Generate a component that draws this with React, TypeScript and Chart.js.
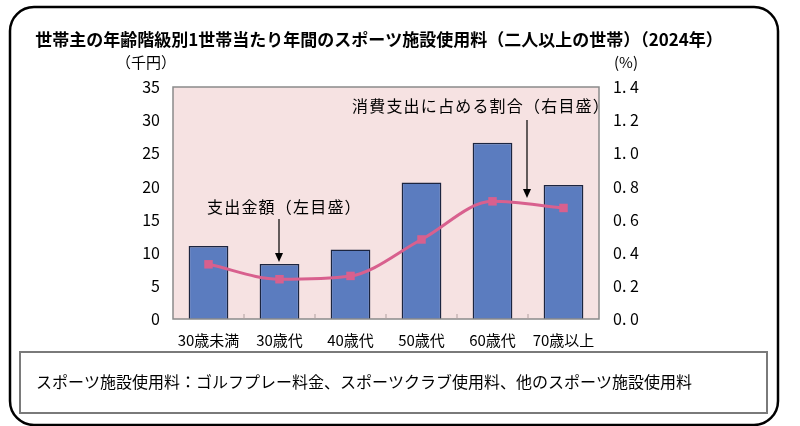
import React, { useEffect, useRef } from "react";
import { Chart, registerables } from "chart.js";

Chart.register(...registerables);

const categories = ["30歳未満", "30歳代", "40歳代", "50歳代", "60歳代", "70歳以上"];
const spending = [11.0, 8.3, 10.5, 20.6, 26.6, 20.2];
const share = [0.33, 0.24, 0.26, 0.48, 0.71, 0.67];
const leftTicks = [0, 5, 10, 15, 20, 25, 30, 35];
const rightTicks = [0.0, 0.2, 0.4, 0.6, 0.8, 1.0, 1.2, 1.4];

const titleText = "世帯主の年齢階級別1世帯当たり年間のスポーツ施設使用料（二人以上の世帯）（2024年）";
const leftUnit = "（千円）";
const rightUnit = "(%)";
const barNote = "支出金額（左目盛）";
const lineNote = "消費支出に占める割合（右目盛）";
const footNote = "スポーツ施設使用料：ゴルフプレー料金、スポーツクラブ使用料、他のスポーツ施設使用料";

const FONT = '"Noto Sans CJK JP", "Noto Sans", sans-serif';

function roundRect(ctx: CanvasRenderingContext2D, x: number, y: number, w: number, h: number, r: number) {
  ctx.beginPath();
  ctx.moveTo(x + r, y);
  ctx.lineTo(x + w - r, y);
  ctx.arcTo(x + w, y, x + w, y + r, r);
  ctx.lineTo(x + w, y + h - r);
  ctx.arcTo(x + w, y + h, x + w - r, y + h, r);
  ctx.lineTo(x + r, y + h);
  ctx.arcTo(x, y + h, x, y + h - r, r);
  ctx.lineTo(x, y + r);
  ctx.arcTo(x, y, x + r, y, r);
  ctx.closePath();
}

function arrow(ctx: CanvasRenderingContext2D, x: number, y1: number, y2: number) {
  ctx.save();
  ctx.strokeStyle = "#000";
  ctx.fillStyle = "#000";
  ctx.lineWidth = 1.2;
  ctx.beginPath();
  ctx.moveTo(x, y1);
  ctx.lineTo(x, y2 - 8);
  ctx.stroke();
  ctx.beginPath();
  ctx.moveTo(x - 4, y2 - 9);
  ctx.lineTo(x + 4, y2 - 9);
  ctx.lineTo(x, y2);
  ctx.closePath();
  ctx.fill();
  ctx.restore();
}

const decor = {
  id: "decor",
  beforeDraw(chart: any) {
    const ctx = chart.ctx as CanvasRenderingContext2D;
    const a = chart.chartArea;
    ctx.save();
    ctx.fillStyle = "#ffffff";
    ctx.fillRect(0, 0, chart.width, chart.height);
    ctx.fillStyle = "#f6e2e2";
    ctx.fillRect(a.left, a.top, a.right - a.left, a.bottom - a.top);
    ctx.restore();
  },
  afterDatasetsDraw(chart: any) {
    const ctx = chart.ctx as CanvasRenderingContext2D;
    const a = chart.chartArea;
    ctx.save();
    ctx.strokeStyle = "#8a8a8a";
    ctx.lineWidth = 1.5;
    ctx.strokeRect(a.left, a.top, a.right - a.left, a.bottom - a.top);
    const xs = chart.scales.x;
    ctx.strokeStyle = "#b0a0a0";
    ctx.lineWidth = 1;
    for (let i = 1; i < categories.length; i++) {
      const x = (xs.getPixelForValue(i - 1) + xs.getPixelForValue(i)) / 2;
      ctx.beginPath();
      ctx.moveTo(x, a.bottom);
      ctx.lineTo(x, a.bottom - 5);
      ctx.stroke();
    }
    ctx.strokeStyle = "#000";
    ctx.lineWidth = 2.5;
    roundRect(ctx, 10, 7, 768, 418, 24);
    ctx.stroke();
    ctx.strokeStyle = "#7a7a7a";
    ctx.lineWidth = 2;
    ctx.strokeRect(20, 352, 747, 61);
    ctx.fillStyle = "#000";
    ctx.textBaseline = "middle";
    ctx.textAlign = "center";
    ctx.font = `bold 17px ${FONT}`;
    ctx.fillText(titleText, 379, 40);
    ctx.font = `15px ${FONT}`;
    ctx.fillText(leftUnit, 146, 62);
    ctx.fillText(rightUnit, 626, 62);
    ctx.textAlign = "left";
    ctx.font = `16px ${FONT}`;
    (ctx as any).letterSpacing = "1.2px";
    ctx.fillText(barNote, 207, 207);
    ctx.fillText(lineNote, 352, 106);
    (ctx as any).letterSpacing = "0px";
    ctx.fillText(footNote, 36, 382);
    arrow(ctx, 279, 219, 262);
    arrow(ctx, 527, 120, 198);
    ctx.restore();
  },
};

export default function App() {
  const ref = useRef<HTMLCanvasElement | null>(null);
  useEffect(() => {
    if (!ref.current) return;
    const chart = new Chart(ref.current, {
      type: "bar",
      data: {
        labels: categories,
        datasets: [
          {
            type: "line",
            label: "消費支出に占める割合",
            data: share,
            yAxisID: "y1",
            borderColor: "#d8608e",
            backgroundColor: "#d8608e",
            borderWidth: 3,
            tension: 0.4,
            cubicInterpolationMode: "monotone",
            pointStyle: "rect",
            pointRadius: 6,
            pointBorderWidth: 0,
            order: 0,
          } as any,
          {
            type: "bar",
            label: "支出金額",
            data: spending,
            yAxisID: "y",
            backgroundColor: "#5b7cbf",
            borderColor: "#1c2540",
            borderWidth: 1.5,
            barPercentage: 0.56,
            categoryPercentage: 1,
            order: 1,
          } as any,
        ],
      },
      options: {
        responsive: false,
        animation: false,
        layout: { padding: { top: 87, left: 0, right: 0, bottom: 0 } },
        plugins: { legend: { display: false }, tooltip: { enabled: false }, title: { display: false } },
        scales: {
          x: {
            grid: { display: false, drawTicks: false },
            border: { display: false },
            ticks: { color: "#000", font: { size: 15, family: FONT }, padding: 12, maxRotation: 0, autoSkip: false },
            afterFit: (s: any) => { s.height = 107; },
          },
          y: {
            position: "left",
            min: 0,
            max: 35,
            afterBuildTicks: (s: any) => { s.ticks = leftTicks.map((v) => ({ value: v })); },
            grid: { display: false, drawTicks: false },
            border: { display: false },
            ticks: { color: "#000", font: { size: 16, family: FONT }, padding: 13, callback: (v: any) => String(v) },
            afterFit: (s: any) => { s.width = 173; },
          },
          y1: {
            position: "right",
            min: 0,
            max: 1.4,
            afterBuildTicks: (s: any) => { s.ticks = rightTicks.map((v) => ({ value: v })); },
            grid: { display: false, drawTicks: false },
            border: { display: false },
            ticks: { color: "#000", font: { size: 16, family: FONT }, padding: 14, callback: (v: any) => Number(v).toFixed(1).replace(".", ". ") },
            afterFit: (s: any) => { s.width = 201; },
          },
        },
      },
      plugins: [decor],
    });
    return () => chart.destroy();
  }, []);
  return (
    <div style={{ position: "fixed", left: 0, top: 0, width: 800, height: 426 }}>
      <canvas ref={ref} width={800} height={426} style={{ width: 800, height: 426 }} />
    </div>
  );
}
